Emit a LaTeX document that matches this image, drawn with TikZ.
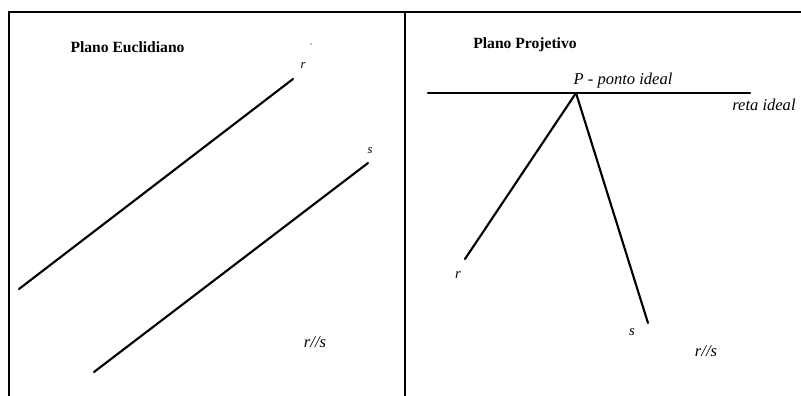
\documentclass[tikz,border=0pt]{standalone}
\usepackage{fontspec}
\setmainfont{Liberation Serif}
\usepackage{tikz}
\usetikzlibrary{positioning}
\colorlet{cline}{black}
\tikzset{
  frame/.style={draw=cline, line width=1.6pt},
  reta/.style={draw=cline, line width=1.6pt, line cap=round},
  ptitle/.style={font=\bfseries\fontsize{11.7}{13}\selectfont, inner sep=0pt},
  lbl/.style={font=\itshape\fontsize{12.4}{14}\selectfont, inner sep=0pt},
  smlbl/.style={font=\itshape\fontsize{#1}{10}\selectfont, inner sep=0pt},
}
\begin{document}
\begin{tikzpicture}[x=0.75pt, y=-0.75pt]
\useasboundingbox (0,0) rectangle (801,396);
% moldura
\coordinate (fbl) at (9,396);
\coordinate (ftl) at (9,12);
\coordinate (ftr) at (801,12);
\coordinate (dtop) at (405,12);
\coordinate (dbot) at (405,396);
\draw[frame] (fbl) -- (ftl) -- (ftr);
\draw[frame] (dtop) -- (dbot);
% plano euclidiano
\node[ptitle] (te) at (127.5,47) {Plano Euclidiano};
\fill (311,44) circle (0.7);
\coordinate (ra) at (19,289);
\coordinate (rb) at (293,79);
\coordinate (sa) at (94,372);
\coordinate (sb) at (368,163);
\draw[reta] (ra) -- (rb);
\draw[reta] (sa) -- (sb);
\node[smlbl=9.5] (lr) at (303,66) {r};
\node[smlbl=9.5] (ls) at (370,151) {s};
\node[lbl] (par1) at (315,342) {r//s};
% plano projetivo
\node[ptitle] (tp) at (525,45) {Plano Projetivo};
\coordinate (P) at (576,93);
\coordinate (ia) at (428,93);
\coordinate (ib) at (750,93);
\coordinate (pr) at (465,259);
\coordinate (ps) at (648,323);
\draw[reta] (ia) -- (ib);
\draw[reta] (P) -- (pr);
\draw[reta] (P) -- (ps);
\node[lbl] (lp) at (623,81) {P - ponto ideal};
\node[lbl] (lri) at (764,105) {reta ideal};
\node[smlbl=11] (lr2) at (458,275) {r};
\node[smlbl=11] (ls2) at (632,332) {s};
\node[lbl] (par2) at (706,351) {r//s};
\end{tikzpicture}
\end{document}
